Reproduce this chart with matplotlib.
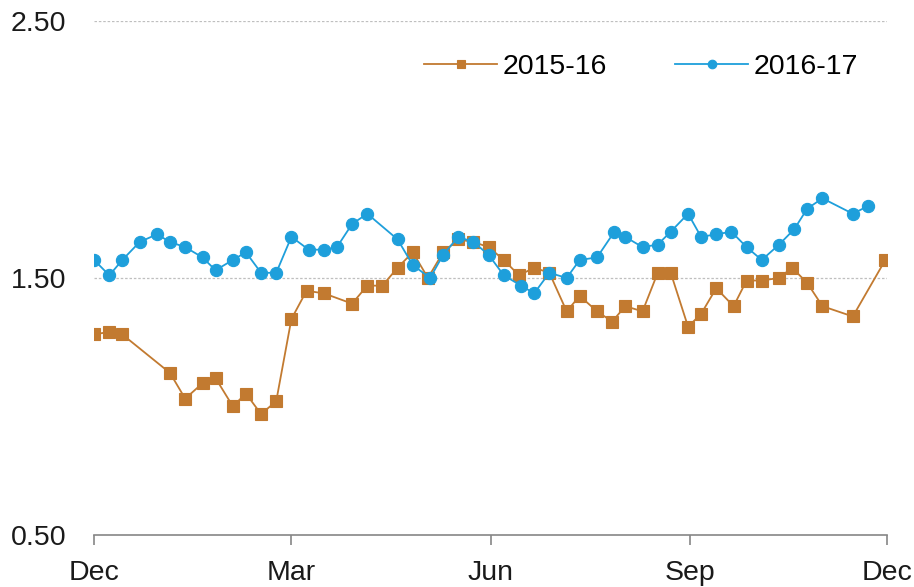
import matplotlib
matplotlib.use("Agg")
import matplotlib.pyplot as plt

plt.rcParams["font.family"] = ["Liberation Sans", "DejaVu Sans"]

# days since 1 Dec of the first year (x axis spans one year, Dec to Dec)
DAYS_1516 = [0, 7, 13, 35, 42, 50, 56, 64, 70, 77, 84, 91, 98, 106, 119, 126,
             133, 140, 147, 154, 161, 168, 175, 182, 189, 196, 203, 210, 218,
             224, 232, 239, 245, 253, 260, 266, 274, 280, 287, 295, 301, 308,
             316, 322, 329, 336, 350, 365]
VALS_1516 = [1.28, 1.29, 1.28, 1.13, 1.03, 1.09, 1.11, 1.00, 1.05, 0.97, 1.02,
             1.34, 1.45, 1.44, 1.40, 1.47, 1.47, 1.54, 1.60, 1.50, 1.60, 1.65,
             1.64, 1.62, 1.57, 1.51, 1.54, 1.52, 1.37, 1.43, 1.37, 1.33, 1.39,
             1.37, 1.52, 1.52, 1.31, 1.36, 1.46, 1.39, 1.49, 1.49, 1.50, 1.54,
             1.48, 1.39, 1.35, 1.57]

DAYS_1617 = [0, 7, 13, 21, 29, 35, 42, 50, 56, 64, 70, 77, 84, 91, 99, 106,
             112, 119, 126, 140, 147, 155, 161, 168, 175, 182, 189, 197, 203,
             210, 218, 224, 232, 240, 245, 253, 260, 266, 274, 280, 287, 294,
             301, 308, 316, 323, 329, 336, 350, 357]
VALS_1617 = [1.57, 1.51, 1.57, 1.64, 1.67, 1.64, 1.62, 1.58, 1.53, 1.57, 1.60,
             1.52, 1.52, 1.66, 1.61, 1.61, 1.62, 1.71, 1.75, 1.65, 1.55, 1.50,
             1.59, 1.66, 1.64, 1.59, 1.51, 1.47, 1.44, 1.52, 1.50, 1.57, 1.58,
             1.68, 1.66, 1.62, 1.63, 1.68, 1.75, 1.66, 1.67, 1.68, 1.62, 1.57,
             1.63, 1.69, 1.77, 1.81, 1.75, 1.78]

TICK_DAYS = [0, 91, 183, 275, 366]
TICK_LABELS = ["Dec", "Mar", "Jun", "Sep", "Dec"]
Y_TICKS = [0.5, 1.5, 2.5]

ORANGE = "#C27A30"
BLUE = "#1E9FDB"
FS = 20.5

fig = plt.figure(figsize=(9.14, 5.87), dpi=100)
ax = fig.add_axes([0.103, 0.089, 0.868, 0.875])

ax.plot(DAYS_1516, VALS_1516, color=ORANGE, lw=1.3, marker="s", ms=8.6,
        mec=ORANGE, mew=0.8, label="2015-16", zorder=3)
ax.plot(DAYS_1617, VALS_1617, color=BLUE, lw=1.3, marker="o", ms=8.8,
        mec=BLUE, mew=0.8, label="2016-17", zorder=3)

ax.set_xlim(0, 366)
ax.set_ylim(0.5, 2.5)
ax.set_xticks(TICK_DAYS)
ax.set_xticklabels(TICK_LABELS)
ax.set_yticks(Y_TICKS)
ax.set_yticklabels([f"{v:.2f}" for v in Y_TICKS])

for v in Y_TICKS[1:]:
    ax.axhline(v, color="#BFBFBF", lw=0.9, ls=(0, (2, 1.5)), zorder=1)

for s in ["top", "right", "left"]:
    ax.spines[s].set_visible(False)
ax.spines["bottom"].set_color("#868686")
ax.spines["bottom"].set_linewidth(1.2)

ax.tick_params(axis="x", length=7, width=1.2, color="#868686", pad=11,
               labelsize=FS, labelcolor="#1a1a1a")
ax.tick_params(axis="y", length=0, pad=20, labelsize=FS, labelcolor="#1a1a1a")

ax.legend(loc="upper right", bbox_to_anchor=(0.995, 0.985), ncol=2, frameon=False,
          fontsize=FS, markerscale=0.7, handlelength=2.55, columnspacing=2.4,
          handletextpad=0.2)

fig.savefig("out.png", dpi=100)
